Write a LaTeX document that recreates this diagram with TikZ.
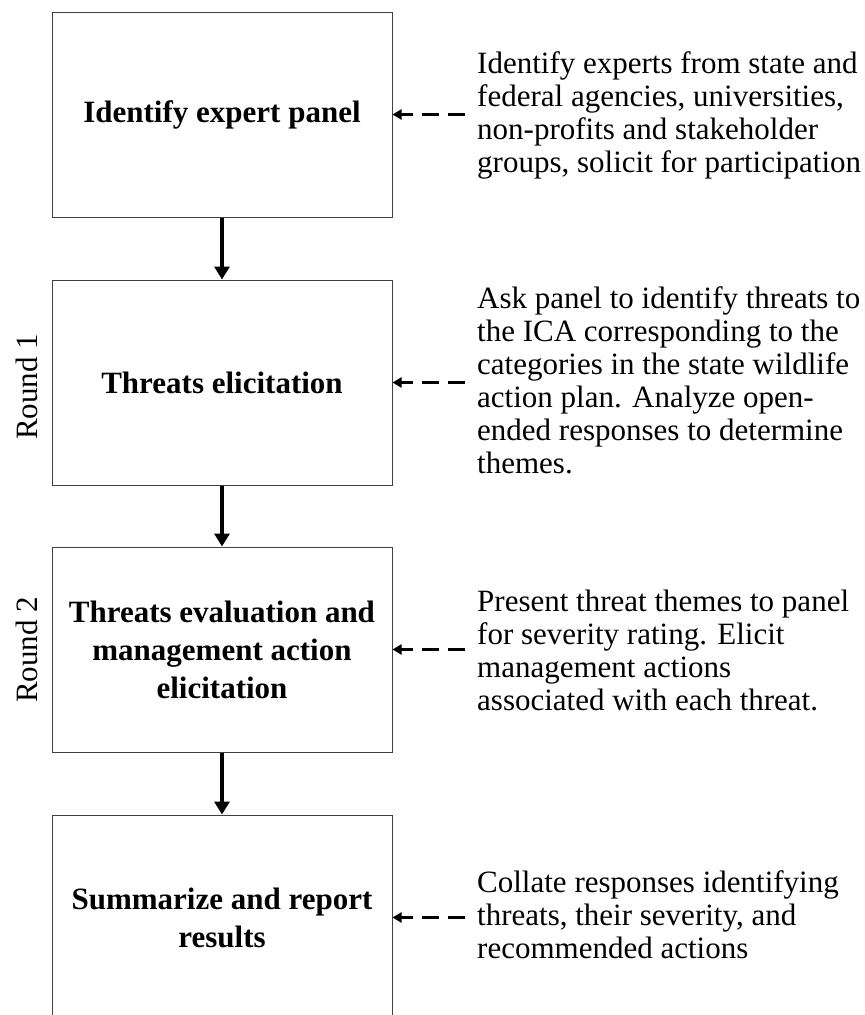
\documentclass[tikz,border=0pt]{standalone}
\usepackage{fontspec}
\setmainfont{Liberation Serif}
\usetikzlibrary{arrows.meta}
\begin{document}
\begin{tikzpicture}[x=1pt,y=1pt,
  stepbox/.style={draw=black!75,line width=1pt,minimum width=340pt,minimum height=205pt,align=center,font=\fontsize{31}{38}\selectfont\bfseries,inner sep=0pt},
  note/.style={anchor=west,align=left,font=\fontsize{31}{33}\selectfont,inner sep=0pt},
  flow/.style={line width=4pt,-{Triangle[length=13pt,width=15pt]}},
  feed/.style={line width=3.8pt,dash pattern=on 17pt off 9pt,-{Triangle[length=9pt,width=10pt]}},
  roundlbl/.style={rotate=90,font=\fontsize{31}{36}\selectfont,inner sep=0pt}]
\useasboundingbox (0,0) rectangle (865,-1015);
\clip (0,0) rectangle (865,-1015);
\node[stepbox] (b1) at (222,-114.5) {Identify expert panel};
\node[stepbox] (b2) at (222,-382.5) {Threats elicitation};
\node[stepbox] (b3) at (222,-649.5) {Threats evaluation and\\management action\\elicitation};
\node[stepbox] (b4) at (222,-917.5) {Summarize and report\\results};
\draw[flow] (b1.south) -- (b2.north);
\draw[flow] (b2.south) -- (b3.north);
\draw[flow] (b3.south) -- (b4.north);
\node[note] (n1) at (477,-115) {Identify experts from state and\\federal agencies, universities,\\non-profits and stakeholder\\groups, solicit for participation};
\node[note] (n2) at (477,-380) {Ask panel to identify threats to\\the ICA corresponding to the\\categories in the state wildlife\\action plan. Analyze open-\\ended responses to determine\\themes.};
\node[note] (n3) at (477,-650) {Present threat themes to panel\\for severity rating. Elicit\\management actions\\associated with each threat.};
\node[note] (n4) at (477,-915) {Collate responses identifying\\threats, their severity, and\\recommended actions};
\draw[feed] ([xshift=-12pt]n1.west |- b1.east) -- (b1.east);
\draw[feed] ([xshift=-12pt]n2.west |- b2.east) -- (b2.east);
\draw[feed] ([xshift=-12pt]n3.west |- b3.east) -- (b3.east);
\draw[feed] ([xshift=-12pt]n4.west |- b4.east) -- (b4.east);
\node[roundlbl] (r1) at (27,-387) {Round 1};
\node[roundlbl] (r2) at (27,-650) {Round 2};
\end{tikzpicture}
\end{document}
